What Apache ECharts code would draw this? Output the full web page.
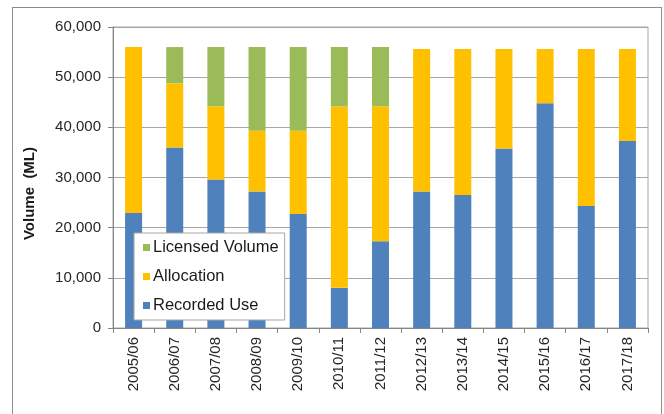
<!DOCTYPE html>
<html>
<head>
<meta charset="utf-8">
<script src="https://cdn.jsdelivr.net/npm/echarts@6/dist/echarts.min.js"></script>
<style>
  html, body { margin: 0; padding: 0; background: #fff; overflow: hidden; }
  #frame {
    position: absolute; left: 12px; top: 7px; width: 650px; height: 420px;
    border: 1px solid #8c8c8c; box-sizing: border-box;
  }
  #chart { position: absolute; left: 0; top: 0; width: 664px; height: 414px; }
</style>
</head>
<body>
<div id="frame"></div>
<div id="chart"></div>
<script>
var years = ['2005/06', '2006/07', '2007/08', '2008/09', '2009/10', '2010/11', '2011/12',
             '2012/13', '2013/14', '2014/15', '2015/16', '2016/17', '2017/18'];
// stacked segments (ML)
var recordedUse    = [22900, 36000, 29600, 27200, 22700, 8000, 17300, 27200, 26500, 35800, 44800, 24300, 37300];
var allocation     = [33100, 12800, 14600, 12100, 16600, 36200, 26900, 28400, 29100, 19800, 10800, 31300, 18300];
var licensedVolume = [0, 7200, 11800, 16700, 16700, 11800, 11800, 0, 0, 0, 0, 0, 0];

var font = 'Liberation Sans';
var chart = echarts.init(document.getElementById('chart'));

function bar(name, data, color) {
  return {
    name: name,
    type: 'bar',
    stack: 'total',
    data: data,
    barWidth: 17,
    itemStyle: { color: color },
    animation: false
  };
}

chart.setOption({
  textStyle: { fontFamily: font },
  grid: {
    left: 113, right: 16, top: 27, bottom: 86,
    show: true, borderColor: '#a6a6a6', borderWidth: 1
  },
  legend: {
    orient: 'vertical',
    left: 134, top: 233,
    data: ['Licensed Volume', 'Allocation', 'Recorded Use'],
    icon: 'rect',
    itemWidth: 7, itemHeight: 7,
    itemGap: 12,
    padding: [6, 6, 6, 9],
    backgroundColor: '#fff',
    borderColor: '#a6a6a6',
    borderWidth: 1,
    textStyle: { fontSize: 16.5, color: '#1a1a1a', fontFamily: font, padding: [0, 0, 0, -2] }
  },
  xAxis: {
    type: 'category',
    data: years,
    axisLine: { lineStyle: { color: '#868686' } },
    axisTick: { show: true, length: 5, interval: 0, lineStyle: { color: '#868686' } },
    axisLabel: { rotate: 90, fontSize: 15, color: '#262626', margin: 9, interval: 0 }
  },
  yAxis: {
    type: 'value',
    min: 0, max: 60000, interval: 10000,
    name: 'Volume  (ML)',
    nameLocation: 'middle',
    nameGap: 76,
    nameTextStyle: { fontSize: 15, color: '#1a1a1a', fontWeight: 'bold', padding: [0, 32, 0, 0] },
    axisLine: { show: true, lineStyle: { color: '#868686' } },
    axisTick: { show: true, length: 5, lineStyle: { color: '#868686' } },
    axisLabel: {
      fontSize: 15, color: '#262626', margin: 12,
      formatter: function (v) { return v.toLocaleString('en-US'); }
    },
    splitLine: { lineStyle: { color: '#a6a6a6' } }
  },
  series: [
    bar('Recorded Use', recordedUse, '#4f81bd'),
    bar('Allocation', allocation, '#ffc000'),
    bar('Licensed Volume', licensedVolume, '#9bbb59')
  ]
});
</script>
</body>
</html>
